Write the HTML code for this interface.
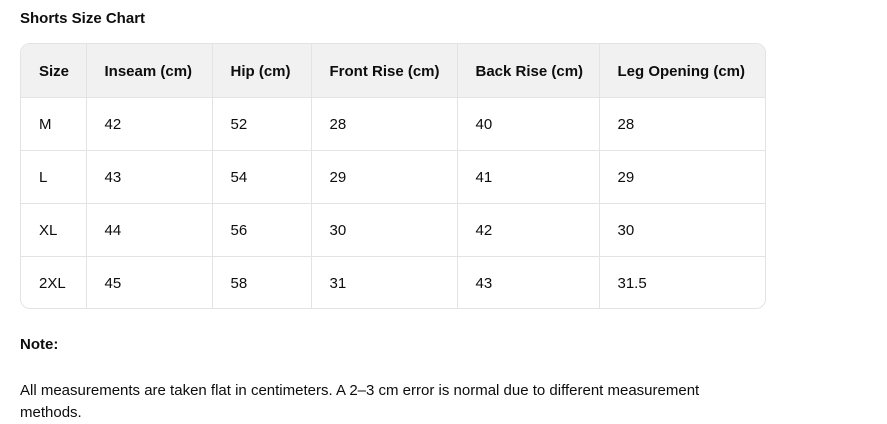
<!DOCTYPE html>
<html><head><style>
body{margin:0;background:#fff;font-family:"Liberation Sans",Arial,sans-serif;color:#0d0d0d;width:887px;height:423px;overflow:hidden}
.t{position:absolute;left:20px;top:10px;font-weight:bold;font-size:15px}
.wrap{position:absolute;left:20px;top:43px;width:744px;height:264px;border:1px solid #e3e3e3;border-radius:10px;overflow:hidden}
table{border-collapse:collapse;width:100%;font-size:15px}
td,th{border-right:1px solid #e3e3e3;border-bottom:1px solid #e3e3e3;text-align:left;padding:2px 0 0 18px;height:53px;box-sizing:border-box}
th{background:#f1f1f1;font-weight:bold;height:53px;padding-top:3px}
tr td:last-child,tr th:last-child{border-right:none}
tr:last-child td{border-bottom:none}
.n{position:absolute;left:20px;top:336px;font-weight:bold;font-size:15px}
.p{position:absolute;left:20px;top:380px;font-size:15px;line-height:22px;width:740px}
</style></head><body>
<div class="t">Shorts Size Chart</div>
<div class="wrap"><table>
<colgroup><col style="width:65px"><col style="width:126px"><col style="width:99px"><col style="width:146px"><col style="width:142px"><col></colgroup>
<tr><th>Size</th><th>Inseam (cm)</th><th>Hip (cm)</th><th>Front Rise (cm)</th><th>Back Rise (cm)</th><th>Leg Opening (cm)</th></tr>
<tr><td>M</td><td>42</td><td>52</td><td>28</td><td>40</td><td>28</td></tr>
<tr><td>L</td><td>43</td><td>54</td><td>29</td><td>41</td><td>29</td></tr>
<tr><td>XL</td><td>44</td><td>56</td><td>30</td><td>42</td><td>30</td></tr>
<tr><td>2XL</td><td>45</td><td>58</td><td>31</td><td>43</td><td>31.5</td></tr>
</table></div>
<div class="n">Note:</div>
<div class="p">All measurements are taken flat in centimeters. A 2–3 cm error is normal due to different measurement<br>methods.</div>
</body></html>
